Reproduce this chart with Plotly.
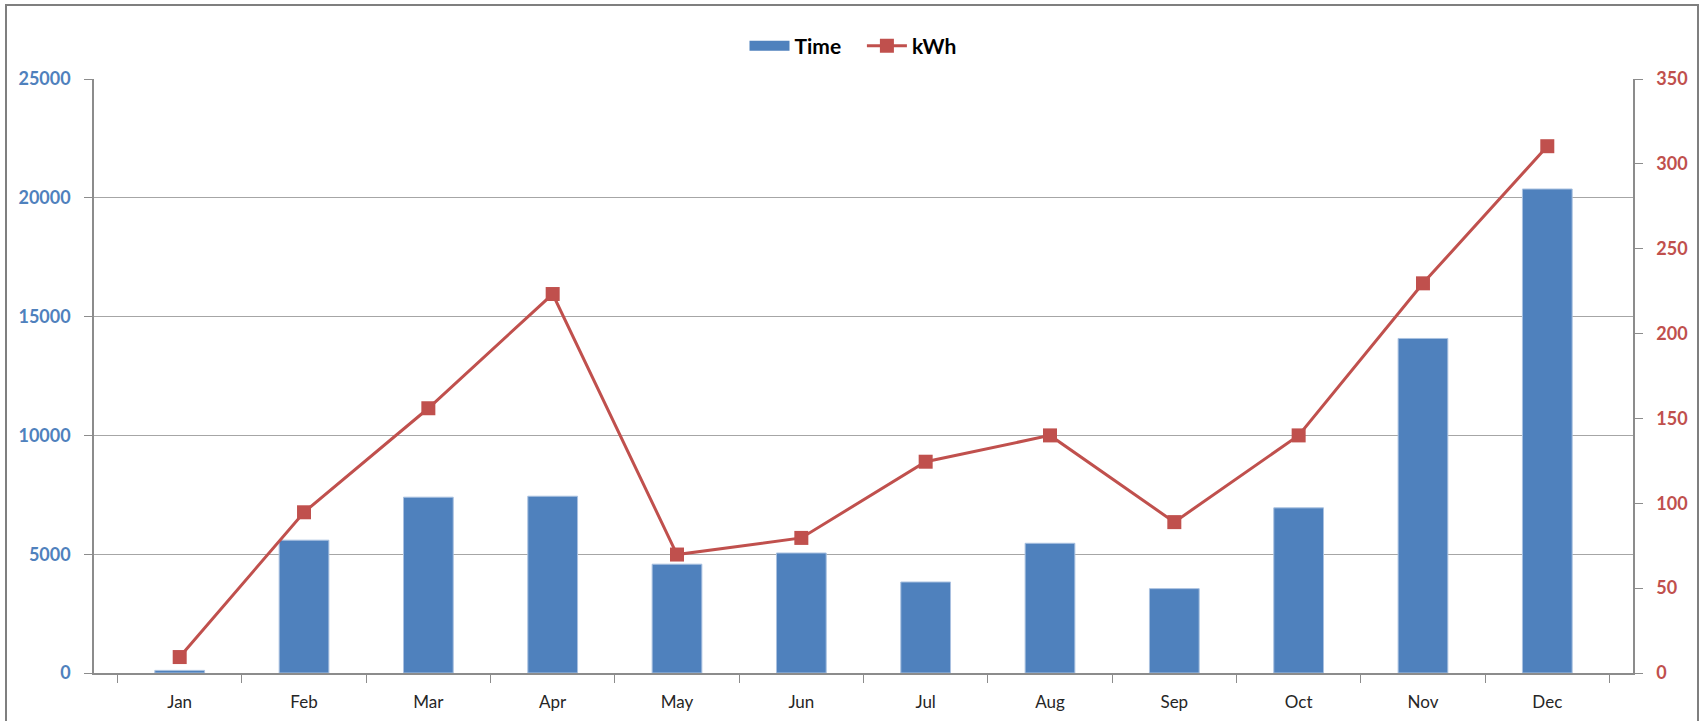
import plotly.graph_objects as go

months = ["Jan", "Feb", "Mar", "Apr", "May", "Jun", "Jul", "Aug", "Sep", "Oct", "Nov", "Dec"]
time_vals = [110, 5590, 7400, 7440, 4580, 5050, 3830, 5460, 3550, 6950, 14080, 20370]
kwh_vals = [9.4, 94.7, 156, 223.3, 69.8, 79.6, 124.5, 140, 88.9, 140, 229.6, 310.4]

BLUE = "#4F81BD"
RED = "#C0504D"
GREY = "#8C8C8C"
FONT = "Lato"

W, H = 1701, 721
L, R, T, B = 94, 68, 79, 48
pw, ph = W - L - R, H - T - B

def px_x(p):
    return (p - L) / pw

def px_y(p):
    return (H - B - p) / ph

fig = go.Figure()
fig.add_trace(go.Bar(
    x=months, y=time_vals, name="Time",
    marker=dict(color=BLUE, line=dict(color="#A9C1E0", width=1)),
    width=0.4, yaxis="y", showlegend=False,
))
# legend entry for bars (wide swatch like the reference)
fig.add_trace(go.Scatter(
    x=[None], y=[None], name="Time\u2003", mode="lines",
    line=dict(color=BLUE, width=13), yaxis="y", showlegend=True,
))
fig.add_trace(go.Scatter(
    x=months, y=kwh_vals, name="kWh", mode="lines+markers",
    line=dict(color=RED, width=3),
    marker=dict(symbol="square", size=14, color=RED),
    yaxis="y2",
))

fig.update_layout(
    width=W, height=H,
    margin=dict(l=L, r=R, t=T, b=B, autoexpand=False),
    paper_bgcolor="white", plot_bgcolor="white",
    font=dict(family=FONT),
    showlegend=True,
    legend=dict(
        orientation="h", x=px_x(853), xanchor="center", y=px_y(46), yanchor="middle",
        font=dict(family=FONT, size=21, color="#000000", weight="bold"),
        itemwidth=40, traceorder="normal",
    ),
    xaxis=dict(
        type="category", showgrid=False, showline=True, linecolor=GREY, linewidth=1.5,
        ticks="outside", tickson="boundaries", ticklen=8, tickcolor=GREY,
        tickfont=dict(family=FONT, size=17, color="#262626"),
        ticklabelstandoff=13, automargin=False,
    ),
    yaxis=dict(
        range=[0, 25000], dtick=5000, tickformat="d", showgrid=True, gridcolor="#A6A6A6", gridwidth=1,
        showline=True, linecolor=GREY, linewidth=1.5,
        ticks="outside", ticklen=8, tickcolor=GREY,
        tickfont=dict(family=FONT, size=18, color=BLUE, weight="bold"),
        ticklabelstandoff=10, zeroline=False, automargin=False,
    ),
    yaxis2=dict(
        range=[0, 350], dtick=50, tickformat="d", overlaying="y", side="right", showgrid=False,
        showline=True, linecolor=GREY, linewidth=1.5,
        ticks="outside", ticklen=8, tickcolor=GREY,
        tickfont=dict(family=FONT, size=18, color=RED, weight="bold"),
        ticklabelstandoff=10, zeroline=False, automargin=False,
    ),
    bargap=0.6,
)

fig.add_shape(
    type="rect", xref="paper", yref="paper",
    x0=px_x(6), x1=px_x(1698), y0=px_y(740), y1=px_y(5),
    line=dict(color="#7F7F7F", width=2), layer="below",
)

fig.write_html("out.html", config={"displayModeBar": False},
               post_script="document.body.style.margin='0';")
